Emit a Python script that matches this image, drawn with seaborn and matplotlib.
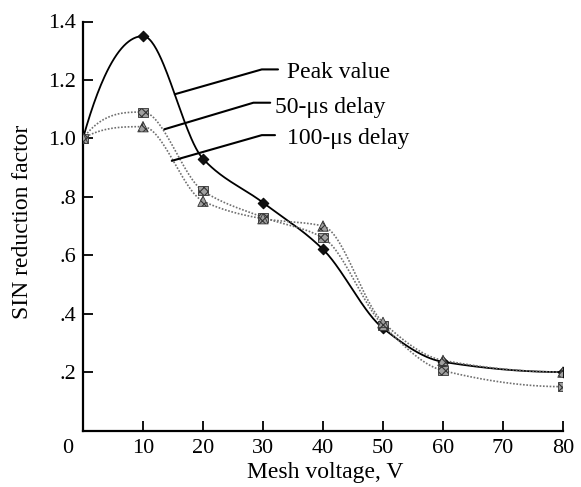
import numpy as np
import pandas as pd
import matplotlib
matplotlib.use("Agg")
import matplotlib.pyplot as plt
import matplotlib.transforms as mtransforms
import seaborn as sns

# ---- data ----
voltage = [0, 10, 20, 30, 40, 50, 60, 80]
peak_value = [1.00, 1.35, 0.93, 0.78, 0.62, 0.35, 0.235, 0.200]
delay_50us = [1.00, 1.09, 0.82, 0.73, 0.66, 0.36, 0.205, 0.150]
delay_100us = [1.00, 1.04, 0.785, 0.725, 0.70, 0.37, 0.240, 0.200]

series_names = ["Peak value", "50-\u03bcs delay", "100-\u03bcs delay"]

x_ticks = [0, 10, 20, 30, 40, 50, 60, 70, 80]
x_tick_labels = ["0", "10", "20", "30", "40", "50", "60", "70", "80"]
y_ticks = [0.2, 0.4, 0.6, 0.8, 1.0, 1.2, 1.4]
y_tick_labels = [".2", ".4", ".6", ".8", "1.0", "1.2", "1.4"]

# leader-line label anchors (curve point, elbow, end, text x, text baseline y)
leaders = [
    ((15.3, 1.151), (29.8, 1.236), (32.5, 1.236), 34.0, 1.205),
    ((13.55, 1.031), (28.4, 1.122), (31.2, 1.122), 32.0, 1.088),
    ((14.8, 0.923), (29.8, 1.011), (32.0, 1.011), 34.0, 0.980),
]


def pchip(x, y, xs):
    x = np.asarray(x, float)
    y = np.asarray(y, float)
    h = np.diff(x)
    delta = np.diff(y) / h
    n = len(x)
    d = np.zeros(n)
    for k in range(1, n - 1):
        if delta[k - 1] * delta[k] <= 0:
            d[k] = 0.0
        else:
            w1 = 2 * h[k] + h[k - 1]
            w2 = h[k] + 2 * h[k - 1]
            d[k] = (w1 + w2) / (w1 / delta[k - 1] + w2 / delta[k])

    def end(h0, h1, d0, d1):
        v = ((2 * h0 + h1) * d0 - h0 * d1) / (h0 + h1)
        if np.sign(v) != np.sign(d0):
            v = 0.0
        elif np.sign(d0) != np.sign(d1) and abs(v) > abs(3 * d0):
            v = 3 * d0
        return v

    d[0] = end(h[0], h[1], delta[0], delta[1])
    d[-1] = end(h[-1], h[-2], delta[-1], delta[-2])
    idx = np.clip(np.searchsorted(x, xs) - 1, 0, n - 2)
    t = (xs - x[idx]) / h[idx]
    h00 = 2 * t**3 - 3 * t**2 + 1
    h10 = t**3 - 2 * t**2 + t
    h01 = -2 * t**3 + 3 * t**2
    h11 = t**3 - t**2
    return h00 * y[idx] + h10 * h[idx] * d[idx] + h01 * y[idx + 1] + h11 * h[idx] * d[idx + 1]


sns.set_style("ticks")
plt.rcParams["font.family"] = ["Liberation Serif", "DejaVu Serif"]
plt.rcParams["hatch.linewidth"] = 0.8

fig = plt.figure(figsize=(5.81, 4.87), dpi=100)
ax = fig.add_axes([83 / 581, (487 - 430.5) / 487, (563 - 83) / 581, (430.5 - 21.5) / 487])

xs = np.linspace(0, 80, 400)
styles = [
    dict(color="black", lw=1.3, ls="-", marker="D", mfc="#111111", ms=5.5, mec="black", hatch=None),
    dict(color="#707070", lw=1.2, ls=(0, (1, 1)), marker="s", mfc="#a0a0a0", ms=6.5, mec="#333333", hatch="xxxx"),
    dict(color="#707070", lw=1.2, ls=(0, (1, 1)), marker="^", mfc="#a0a0a0", ms=7.5, mec="#333333", hatch="xxxx"),
]
for name, vals, st in zip(series_names, [peak_value, delay_50us, delay_100us], styles):
    smooth = pd.DataFrame({"x": xs, "y": pchip(voltage, vals, xs)})
    sns.lineplot(data=smooth, x="x", y="y", ax=ax, color=st["color"], linewidth=st["lw"],
                 linestyle=st["ls"], legend=False)
    pts = pd.DataFrame({"x": voltage, "y": vals})
    kw = {}
    if st["hatch"]:
        kw["hatch"] = st["hatch"]
    sns.scatterplot(data=pts, x="x", y="y", ax=ax, marker=st["marker"], color=st["mfc"],
                    edgecolor=st["mec"], s=st["ms"] ** 2, linewidth=0.6, zorder=5,
                    legend=False, **kw)

for (p0, p1, p2, tx, ty), name in zip(leaders, series_names):
    ax.plot([p0[0], p1[0], p2[0]], [p0[1], p1[1], p2[1]], color="black", lw=1.5,
            solid_joinstyle="miter", clip_on=False)
    ax.text(tx, ty, name, fontsize=17, ha="left", va="baseline", color="black")

ax.set_xlim(0, 80)
ax.set_ylim(0, 1.4)
ax.set_xticks(x_ticks)
ax.set_xticklabels(x_tick_labels)
ax.set_yticks(y_ticks)
ax.set_yticklabels(y_tick_labels)
ax.tick_params(direction="in", length=7, width=1.3, labelsize=16, colors="black", pad=6)
ax.tick_params(axis="y", pad=5)
for lab in ax.get_xticklabels():
    if lab.get_text() == "0":
        lab.set_transform(lab.get_transform() +
                          mtransforms.ScaledTranslation(-15 / 100, 0, fig.dpi_scale_trans))

sns.despine(ax=ax)
for sp in ("left", "bottom"):
    ax.spines[sp].set_linewidth(1.6)
    ax.spines[sp].set_color("black")

ax.set_xlabel("Mesh voltage, V", fontsize=17, color="black")
ax.set_ylabel("SIN reduction factor", fontsize=17, color="black")
ax.xaxis.set_label_coords(0.504, -0.078)
ax.yaxis.set_label_coords(-0.104, 0.51)

fig.savefig("out.png", dpi=100)
